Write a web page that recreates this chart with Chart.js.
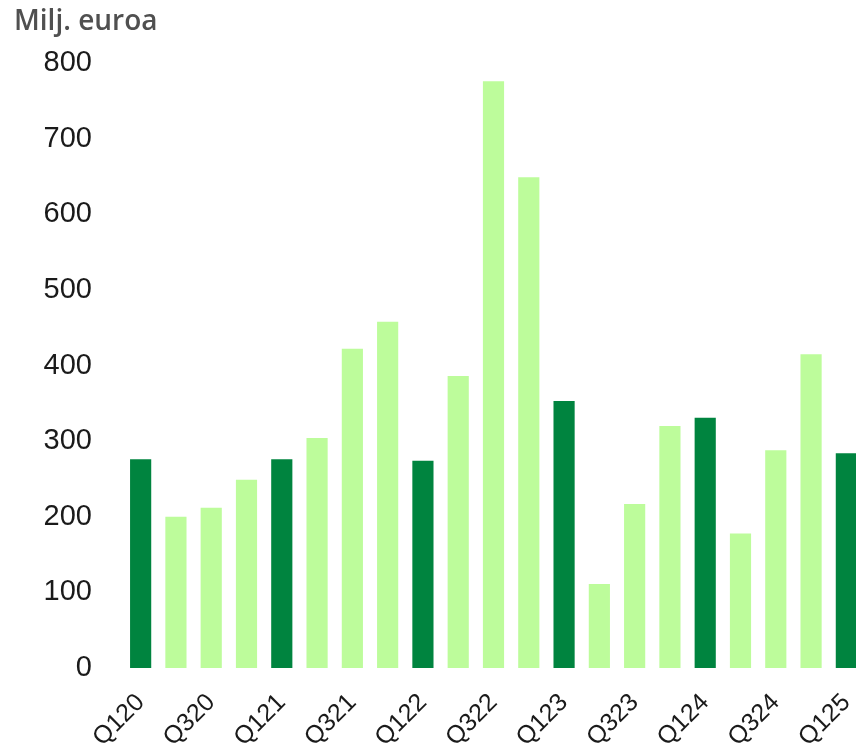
<!DOCTYPE html>
<html>
<head>
<meta charset="utf-8">
<script src="https://cdn.jsdelivr.net/npm/chart.js@4"></script>
<style>
  html, body { margin: 0; padding: 0; background: #fff; overflow: hidden; }
  #wrap { width: 864px; height: 744px; }
</style>
</head>
<body>
<div id="wrap"><canvas id="c" width="864" height="744"></canvas></div>
<script>
const categories = ["Q120","Q220","Q320","Q420","Q121","Q221","Q321","Q421","Q122","Q222","Q322","Q422","Q123","Q223","Q323","Q423","Q124","Q224","Q324","Q424","Q125"];
const values = [276, 200, 212, 249, 276, 304, 422, 458, 274, 386, 776, 649, 353, 111, 217, 320, 331, 178, 288, 415, 284];
const yTicks = [0, 100, 200, 300, 400, 500, 600, 700, 800];
const unitLabel = "Milj. euroa";

const darkGreen = "#00843f";
const lightGreen = "#bdfc9b";
const colors = categories.map(c => c.startsWith("Q1") ? darkGreen : lightGreen);

new Chart(document.getElementById("c"), {
  type: "bar",
  data: {
    labels: categories,
    datasets: [{
      data: values,
      backgroundColor: colors,
      borderWidth: 0,
      categoryPercentage: 1.0,
      barPercentage: 0.6
    }]
  },
  options: {
    responsive: false,
    animation: false,
    devicePixelRatio: 1,
    layout: { padding: { left: 14, right: 0, top: 0, bottom: 0 } },
    plugins: {
      legend: { display: false },
      tooltip: { enabled: false },
      title: {
        display: true,
        text: unitLabel,
        align: "start",
        color: "#505050",
        font: { family: "'Open Sans', 'Noto Sans', sans-serif", size: 28, weight: "600", lineHeight: 1.2 },
        padding: { top: 5, bottom: 24.4 }
      }
    },
    scales: {
      x: {
        grid: { display: false, drawTicks: false },
        border: { display: false },
        ticks: {
          autoSkip: false,
          maxRotation: 45,
          minRotation: 45,
          padding: 20,
          color: "#1a1a1a",
          font: { family: "'Liberation Sans', Arial, sans-serif", size: 25 },
          callback: function(v, i) { return i % 2 === 0 ? categories[i] : ""; }
        },
        afterFit: s => { s.height = 76; s.paddingRight = 0; s.paddingLeft = 0; }
      },
      y: {
        min: 0,
        max: 800,
        grid: { display: false, drawTicks: false },
        border: { display: false },
        afterBuildTicks: s => { s.ticks = yTicks.map(v => ({ value: v })); },
        ticks: {
          padding: 31,
          color: "#1a1a1a",
          font: { family: "'Liberation Sans', Arial, sans-serif", size: 29 }
        },
        afterFit: s => { s.width = 109; }
      }
    }
  }
});
</script>
</body>
</html>
